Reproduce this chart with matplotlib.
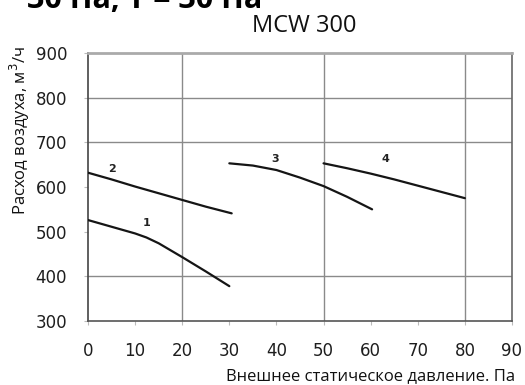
#!/usr/bin/env python3
"""
plot.py — MCW 300 fan curves (air flow vs. external static pressure).

Writes out.png (525x385 px).
"""

import matplotlib
matplotlib.use("Agg")
import matplotlib.pyplot as plt


# ── Data ───────────────────────────────────────────────────────────────────────

curve_1_pa  = [0, 5, 10, 12.4, 15, 20, 25, 30]
curve_1_m3h = [526, 511, 496, 487, 474, 443, 411, 378]

curve_2_pa  = [0, 5, 10, 15, 20, 25, 30.5]
curve_2_m3h = [632, 617, 601, 586, 571, 556, 541]

curve_3_pa  = [30, 35, 40, 45, 50, 55, 60.3]
curve_3_m3h = [653, 648, 638, 621, 602, 578, 550]

curve_4_pa  = [50, 55, 60, 65, 70, 75, 80]
curve_4_m3h = [653, 642, 630, 617, 603, 589, 575]

curve_labels = ["1", "2", "3", "4"]
label_pa     = [12.4, 5.0, 39.7, 63.1]
label_m3h    = [519, 640, 663, 662]

x_ticks   = [0, 10, 20, 30, 40, 50, 60, 70, 80, 90]
y_ticks   = [300, 400, 500, 600, 700, 800, 900]
x_grid    = [20, 50, 80]
y_grid    = [400, 700, 800]

title     = "MCW 300"
header    = "30 Па, Т = 30 Па"
xlabel    = "Внешнее статическое давление. Па"
ylabel    = "Расход воздуха, м$^3$/ч"


# ── Plot ───────────────────────────────────────────────────────────────────────

def main():
    plt.rcParams["font.family"] = ["Open Sans", "DejaVu Sans"]

    fig = plt.figure(figsize=(5.25, 3.85), dpi=100)
    ax = fig.add_axes([88 / 525, 1 - 321 / 385, 424 / 525, 268 / 385])

    ax.set_xlim(0, 90)
    ax.set_ylim(300, 900)

    # sparse grid, as in the scanned original
    for gx in x_grid:
        ax.axvline(gx, color="#8a8a8a", linewidth=1.0, zorder=1)
    for gy in y_grid:
        ax.axhline(gy, color="#8a8a8a", linewidth=1.0, zorder=1)

    curves = [
        (curve_1_pa, curve_1_m3h),
        (curve_2_pa, curve_2_m3h),
        (curve_3_pa, curve_3_m3h),
        (curve_4_pa, curve_4_m3h),
    ]
    for xs, ys in curves:
        ax.plot(xs, ys, color="#151515", linewidth=1.6, zorder=3,
                solid_capstyle="round")

    for lab, lx, ly in zip(curve_labels, label_pa, label_m3h):
        ax.text(lx, ly, lab, fontsize=8, fontweight="bold", color="#222222",
                ha="center", va="center", family="DejaVu Sans")

    ax.set_xticks(x_ticks)
    ax.set_yticks(y_ticks)
    ax.tick_params(axis="both", length=3, color="#bbbbbb", labelsize=12,
                   labelcolor="#1e1e1e")
    ax.tick_params(axis="x", pad=12)
    ax.tick_params(axis="y", pad=12)
    for lbl in ax.get_xticklabels() + ax.get_yticklabels():
        lbl.set_family("DejaVu Sans")

    ax.spines["left"].set_color("#444444")
    ax.spines["bottom"].set_color("#555555")
    ax.spines["right"].set_color("#666666")
    ax.spines["top"].set_color("#aaaaaa")
    for side in ("left", "bottom", "right"):
        ax.spines[side].set_linewidth(1.2)
    ax.spines["top"].set_linewidth(2.0)

    # texts placed in figure coordinates
    fig.text(304 / 525, 1 - 32 / 385, title, fontsize=17, ha="center",
             va="baseline", color="#111111")
    # page heading above the chart, mostly cut off by the top edge
    fig.text(27 / 525, 1 - 8 / 385, header, fontsize=22, fontweight="bold",
             ha="left", va="baseline", color="#000000")
    fig.text(515 / 525, 1 - 380 / 385, xlabel, fontsize=12, ha="right",
             va="baseline", color="#111111")
    fig.text(20 / 525, 1 - 131 / 385, ylabel, fontsize=12, rotation=90,
             ha="center", va="center", color="#111111")

    fig.savefig("out.png", dpi=100)
    plt.close(fig)


if __name__ == "__main__":
    main()
